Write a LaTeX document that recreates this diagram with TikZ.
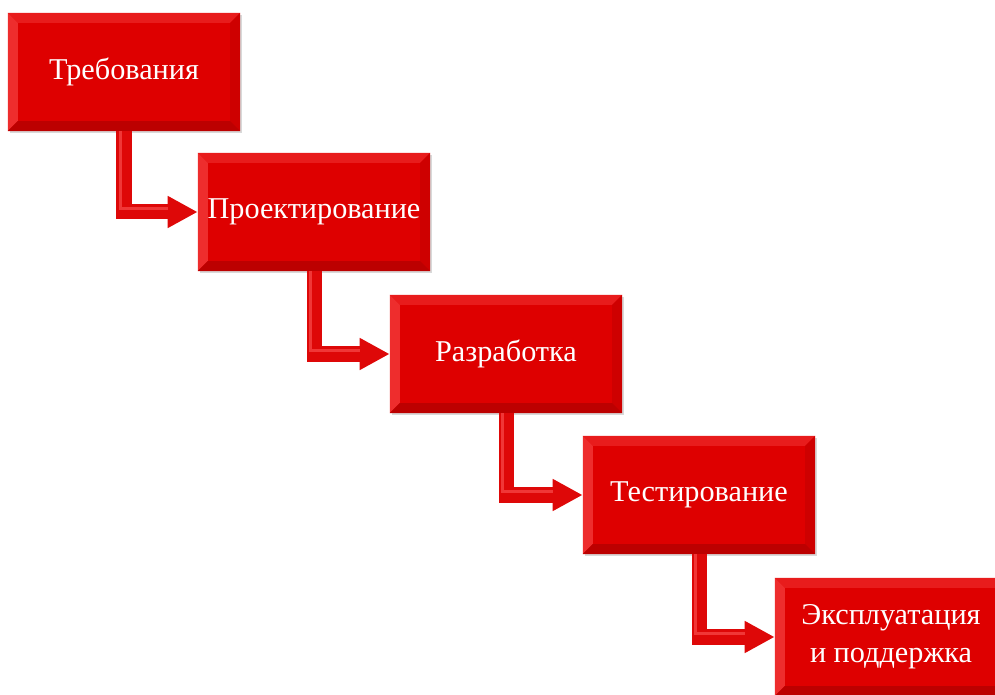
\documentclass[tikz,border=0pt]{standalone}
\usepackage{fontspec}
\setmainfont{Liberation Serif}
\usetikzlibrary{calc,arrows.meta,shadows}
\definecolor{boxred}{RGB}{222,0,0}
\definecolor{bevtop}{RGB}{232,28,28}
\definecolor{bevleft}{RGB}{238,45,45}
\definecolor{bevright}{RGB}{206,0,0}
\definecolor{bevbot}{RGB}{188,0,0}
\definecolor{arrowred}{RGB}{222,8,8}
\definecolor{arrowlight}{RGB}{240,55,55}
\begin{document}
\begin{tikzpicture}[x=0.025cm,y=-0.025cm,
  stage/.style={minimum width=5.8cm, minimum height=2.95cm, inner sep=0pt,
    fill=boxred, text=white, align=center,
    font=\fontsize{21.5}{27}\selectfont,
    drop shadow={shadow xshift=1.5pt, shadow yshift=-1.5pt, opacity=0.25, fill=black!60},
    path picture={
      \coordinate (pnw) at (path picture bounding box.north west);
      \coordinate (pne) at (path picture bounding box.north east);
      \coordinate (psw) at (path picture bounding box.south west);
      \coordinate (pse) at (path picture bounding box.south east);
      \fill[bevtop] (pnw) -- (pne) -- ($(pne)+(-0.25cm,-0.25cm)$) -- ($(pnw)+(0.25cm,-0.25cm)$) -- cycle;
      \fill[bevleft] (pnw) -- (psw) -- ($(psw)+(0.25cm,0.25cm)$) -- ($(pnw)+(0.25cm,-0.25cm)$) -- cycle;
      \fill[bevright] (pne) -- (pse) -- ($(pse)+(-0.25cm,0.25cm)$) -- ($(pne)+(-0.25cm,-0.25cm)$) -- cycle;
      \fill[bevbot] (psw) -- (pse) -- ($(pse)+(-0.25cm,0.25cm)$) -- ($(psw)+(0.25cm,0.25cm)$) -- cycle;
    }},
  flow/.style={draw=arrowred, line width=0.375cm, line join=miter,
    -{Triangle[width=0.75cm,length=0.75cm]}},
  ridge/.style={draw=arrowlight, line width=0.08cm, line join=miter, shorten >=0.75cm}]
\useasboundingbox (0,0) rectangle (995,695);

% stages
\node[stage] (req) at (124,72) {Требования};
\node[stage] (des) at (314,212) {Проектирование};
\node[stage] (dev) at (506,354) {Разработка};
\node[stage] (tst) at (699,495) {Тестирование};
\node[stage] (ops) at (891,637) {Эксплуатация\\и поддержка};

% arrows between stages
\foreach \a/\b in {req/des,des/dev,dev/tst,tst/ops}{
  \draw[flow] (\a.south) |- (\b.west);
  \draw[ridge] ([xshift=-0.08cm]\a.south) |- ([yshift=0.08cm]\b.west);
}
\end{tikzpicture}
\end{document}
